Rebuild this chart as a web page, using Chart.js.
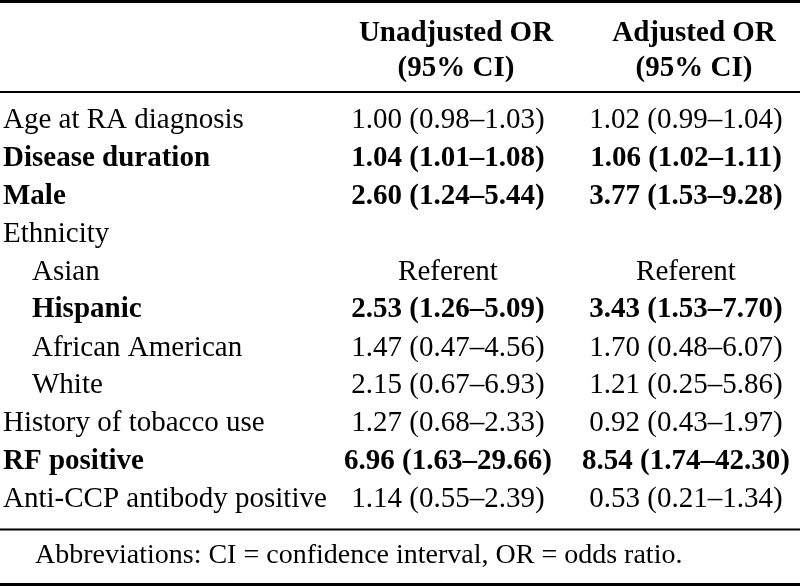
<!DOCTYPE html>
<html>
<head>
<meta charset="utf-8">
<script src="https://cdn.jsdelivr.net/npm/chart.js@4"></script>
<style>
  html, body { margin: 0; padding: 0; background: #fff; }
  canvas { display: block; }
</style>
</head>
<body>
<canvas id="orTable" width="800" height="586"></canvas>
<script>
// Odds ratios for the outcome, unadjusted vs adjusted, drawn as a table
// on top of two category scales (rows on y, OR columns on x).

const rowLabels = [
  'Age at RA diagnosis', 'Disease duration', 'Male', 'Ethnicity', 'Asian',
  'Hispanic', 'African American', 'White', 'History of tobacco use',
  'RF positive', 'Anti-CCP antibody positive'
];
const subRow      = [0, 0, 0, 0, 1, 1, 1, 1, 0, 0, 0];
const significant = [false, true, true, false, false, true, false, false, false, true, false];
const referent = 'Asian';

const columnHeads = [['Unadjusted OR', '(95% CI)'], ['Adjusted OR', '(95% CI)']];

const unadjOR = [1.00, 1.04, 2.60, null, null, 2.53, 1.47, 2.15, 1.27, 6.96, 1.14];
const unadjLo = [0.98, 1.01, 1.24, null, null, 1.26, 0.47, 0.67, 0.68, 1.63, 0.55];
const unadjHi = [1.03, 1.08, 5.44, null, null, 5.09, 4.56, 6.93, 2.33, 29.66, 2.39];

const adjOR = [1.02, 1.06, 3.77, null, null, 3.43, 1.70, 1.21, 0.92, 8.54, 0.53];
const adjLo = [0.99, 1.02, 1.53, null, null, 1.53, 0.48, 0.25, 0.43, 1.74, 0.21];
const adjHi = [1.04, 1.11, 9.28, null, null, 7.70, 6.07, 5.86, 1.97, 42.30, 1.34];

const footnote = 'Abbreviations: CI = confidence interval, OR = odds ratio.';

const SERIF = "'Liberation Serif', 'Times New Roman', serif";
const FONT_SIZE = 29;
const INK = '#000';

function cell(or, lo, hi, i) {
  if (rowLabels[i] === referent) return 'Referent';
  if (or == null) return '';
  return `${or.toFixed(2)} (${lo.toFixed(2)}\u2013${hi.toFixed(2)})`;
}
const columns = [
  rowLabels.map((_, i) => cell(unadjOR[i], unadjLo[i], unadjHi[i], i)),
  rowLabels.map((_, i) => cell(adjOR[i], adjLo[i], adjHi[i], i)),
];

const fontFor = (i) => `${significant[i] ? 'bold ' : ''}${FONT_SIZE}px ${SERIF}`;

// rules, body cells and footnote
const tablePlugin = {
  id: 'tableCells',
  afterDraw(chart) {
    const { ctx, chartArea, scales: { x, y } } = chart;
    ctx.save();
    ctx.fillStyle = INK;
    ctx.fillRect(0, 0, chart.width, 3);
    ctx.fillRect(0, chartArea.top - 10.5, chart.width, 2);
    ctx.fillRect(0, chartArea.bottom + 10, chart.width, 2);
    ctx.fillRect(0, chart.height - 3, chart.width, 3);

    ctx.textAlign = 'center';
    ctx.textBaseline = 'middle';
    columns.forEach((col, j) => {
      const px = x.getPixelForValue(j);
      col.forEach((txt, i) => {
        if (!txt) return;
        ctx.font = fontFor(i);
        ctx.fillText(txt, px, y.getPixelForValue(i));
      });
    });

    ctx.textAlign = 'left';
    ctx.font = `28px ${SERIF}`;
    ctx.fillText(footnote, 35, chartArea.bottom + 37);
    ctx.restore();
  }
};

new Chart(document.getElementById('orTable'), {
  type: 'line',
  data: { datasets: [] },
  options: {
    responsive: false,
    animation: false,
    events: [],
    layout: { padding: { left: 3, right: 114, top: 0, bottom: 67.5 } },
    plugins: { legend: { display: false }, tooltip: { enabled: false } },
    scales: {
      x: {
        type: 'category',
        position: 'top',
        labels: columnHeads,
        offset: false,
        grid: { display: false, drawTicks: false },
        border: { display: false },
        ticks: {
          autoSkip: false, maxRotation: 0, padding: 15.5, labelOffset: 8,
          color: INK,
          font: { family: SERIF, size: FONT_SIZE, weight: 'bold', lineHeight: 1.2 },
        },
        afterFit: (s) => { s.height = 101.5; }
      },
      y: {
        type: 'category',
        position: 'left',
        labels: rowLabels,
        offset: true,
        grid: { display: false, drawTicks: false },
        border: { display: false },
        ticks: {
          autoSkip: false, crossAlign: 'far', padding: 0,
          color: INK,
          callback: (v, i) => (subRow[i] ? '    ' : '') + rowLabels[i],
          font: (c) => ({ family: SERIF, size: FONT_SIZE, weight: significant[c.index] ? 'bold' : 'normal' }),
        },
        afterFit: (s) => { s.width = 445; }
      }
    }
  },
  plugins: [tablePlugin]
});
</script>
</body>
</html>
